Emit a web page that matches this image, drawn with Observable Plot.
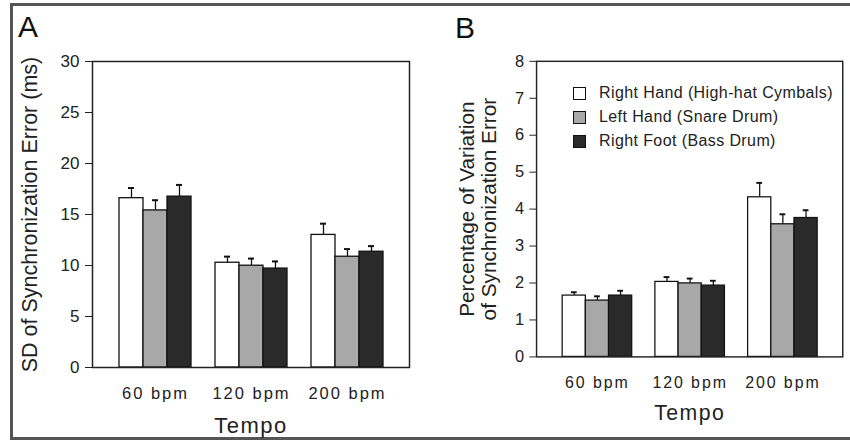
<!DOCTYPE html>
<html><head><meta charset="utf-8">
<script src="https://cdn.jsdelivr.net/npm/d3@7"></script>
<script src="https://cdn.jsdelivr.net/npm/@observablehq/plot@0.6"></script>
<style>
body{margin:0;background:#fff;font-family:"Liberation Sans",Arial,sans-serif;}
#wrap{position:relative;width:850px;height:441px;overflow:hidden;background:#fff;}
#border{position:absolute;left:10px;top:3px;width:900px;height:437px;border:3px solid #555;box-sizing:border-box;}
.panel{position:absolute;top:0;}
#A{left:0px;}
#B{left:425px;}
.letter{position:absolute;font-size:30px;line-height:30px;color:#111;}
#legend{position:absolute;left:573px;top:81px;font-size:16px;letter-spacing:0.4px;color:#222;}
#legend .row{height:24px;line-height:24px;display:flex;align-items:center;white-space:nowrap;}
#legend .sw{width:11px;height:11px;border:1.4px solid #111;margin-right:13px;flex:none;}
g[aria-label="x-axis tick label"] text{letter-spacing:2px;}
</style>
</head><body>
<div id="wrap">
  <div id="border"></div>
  <div class="panel" id="A"></div>
  <div class="panel" id="B"></div>
  <div class="letter" style="left:18px;top:11.6px">A</div>
  <div class="letter" style="left:455px;top:12.6px">B</div>
  <div id="legend"></div>
</div>
<script>
// ---- data ----
const tempos = ["60 bpm", "120 bpm", "200 bpm"];
const limbs = ["Right Hand (High-hat Cymbals)", "Left Hand (Snare Drum)", "Right Foot (Bass Drum)"];
const limbColors = ["#ffffff", "#a8a8a8", "#2a2a2a"];

// Panel A: SD of synchronization error (ms), per limb across tempos
const sdRightHand = [16.6, 10.27, 13.0];
const sdLeftHand  = [15.4, 9.98, 10.86];
const sdRightFoot = [16.75, 9.7, 11.35];
const sdRightHandErr = [1.0, 0.6, 1.1];
const sdLeftHandErr  = [1.0, 0.7, 0.75];
const sdRightFootErr = [1.15, 0.7, 0.55];

// Panel B: percentage of variation of synchronization error
const pctRightHand = [1.66, 2.03, 4.32];
const pctLeftHand  = [1.525, 1.99, 3.59];
const pctRightFoot = [1.66, 1.93, 3.76];
const pctRightHandErr = [0.09, 0.13, 0.39];
const pctLeftHandErr  = [0.115, 0.13, 0.27];
const pctRightFootErr = [0.13, 0.13, 0.21];

const yTicksA = [0, 5, 10, 15, 20, 25, 30];
const yTicksB = [0, 1, 2, 3, 4, 5, 6, 7, 8];
const yLabelA = "SD of Synchronization Error (ms)";
const yLabelB = "Percentage of Variation\nof Synchronization Error";
const xLabel = "Tempo";

// ---- build tables ----
function rowsFrom(series, errs) {
  const rows = [];
  tempos.forEach((t, i) => {
    limbs.forEach((l, j) => {
      rows.push({key: t + "|" + j, tempo: t, limb: l, value: series[j][i], err: errs[j][i]});
    });
  });
  return rows;
}
const rowsA = rowsFrom([sdRightHand, sdLeftHand, sdRightFoot], [sdRightHandErr, sdLeftHandErr, sdRightFootErr]);
const rowsB = rowsFrom([pctRightHand, pctLeftHand, pctRightFoot], [pctRightHandErr, pctLeftHandErr, pctRightFootErr]);

// band domain: bars of each tempo, with one empty slot between groups
const xDomain = [];
tempos.forEach((t, i) => {
  limbs.forEach((l, j) => xDomain.push(t + "|" + j));
  if (i < tempos.length - 1) xDomain.push("gap" + i);
});
const midKeys = tempos.map(t => t + "|1");

const font = '"Liberation Sans", Arial, sans-serif';

function panel(rows, yDomain, yTicks, yLabel, opts) {
  return Plot.plot({
    width: opts.width, height: 441,
    marginLeft: opts.ml, marginRight: opts.mr, marginTop: opts.mt, marginBottom: opts.mb,
    x: {type: "band", domain: xDomain, paddingInner: 0, paddingOuter: 1, align: 0.5},
    y: {domain: yDomain},
    color: {domain: limbs, range: limbColors},
    style: {fontFamily: font, fontSize: "16.5px", color: "#222", background: "transparent", overflow: "visible"},
    marks: [
      Plot.ruleX(rows, {x: "key", y1: "value", y2: d => d.value + d.err, stroke: "#111", strokeWidth: 1.3}),
      Plot.tickY(rows, {x: "key", y: d => d.value + d.err, stroke: "#111", strokeWidth: 2, insetLeft: 9, insetRight: 9}),
      Plot.barY(rows, {x: "key", y: "value", fill: "limb", stroke: "#111", strokeWidth: 1.3}),
      Plot.frame({stroke: "#222", strokeWidth: 1.5}),
      Plot.axisY({ticks: yTicks, tickSize: 7, tickPadding: 6, label: null, stroke: "#222", fontSize: 17}),
      Plot.axisX({ticks: midKeys, tickFormat: k => k.split("|")[0], tickSize: 0, tickPadding: 20, label: null, fontSize: 16.5}),
      Plot.text([yLabel], {frameAnchor: "left", textAnchor: "middle", lineAnchor: "middle", rotate: -90, dx: opts.ldx, fontSize: 21.5, lineHeight: 1.07, fill: "#222"}),
      Plot.text([xLabel], {frameAnchor: "bottom", textAnchor: "middle", lineAnchor: "middle", dy: 58, fontSize: 22, fill: "#222"})
    ]
  });
}

const svgA = panel(rowsA, [0, 30], yTicksA, yLabelA, {width: 425, ml: 92, mr: 16, mt: 61, mb: 74, ldx: -63});
const svgB = panel(rowsB, [0, 8], yTicksB, yLabelB, {width: 440, ml: 115, mr: 8, mt: 63, mb: 72, ldx: -60.4});
document.getElementById("A").appendChild(svgA);
document.getElementById("B").appendChild(svgB);
[svgA, svgB].forEach(svg => {
  d3.select(svg).selectAll("text").filter(function() { return this.textContent === xLabel; })
    .attr("letter-spacing", "1.5px");
});

// legend
const legend = d3.select("#legend");
limbs.forEach((l, j) => {
  const row = legend.append("div").attr("class", "row");
  row.append("div").attr("class", "sw").style("background", limbColors[j]);
  row.append("span").text(l);
});
</script>
</body></html>
